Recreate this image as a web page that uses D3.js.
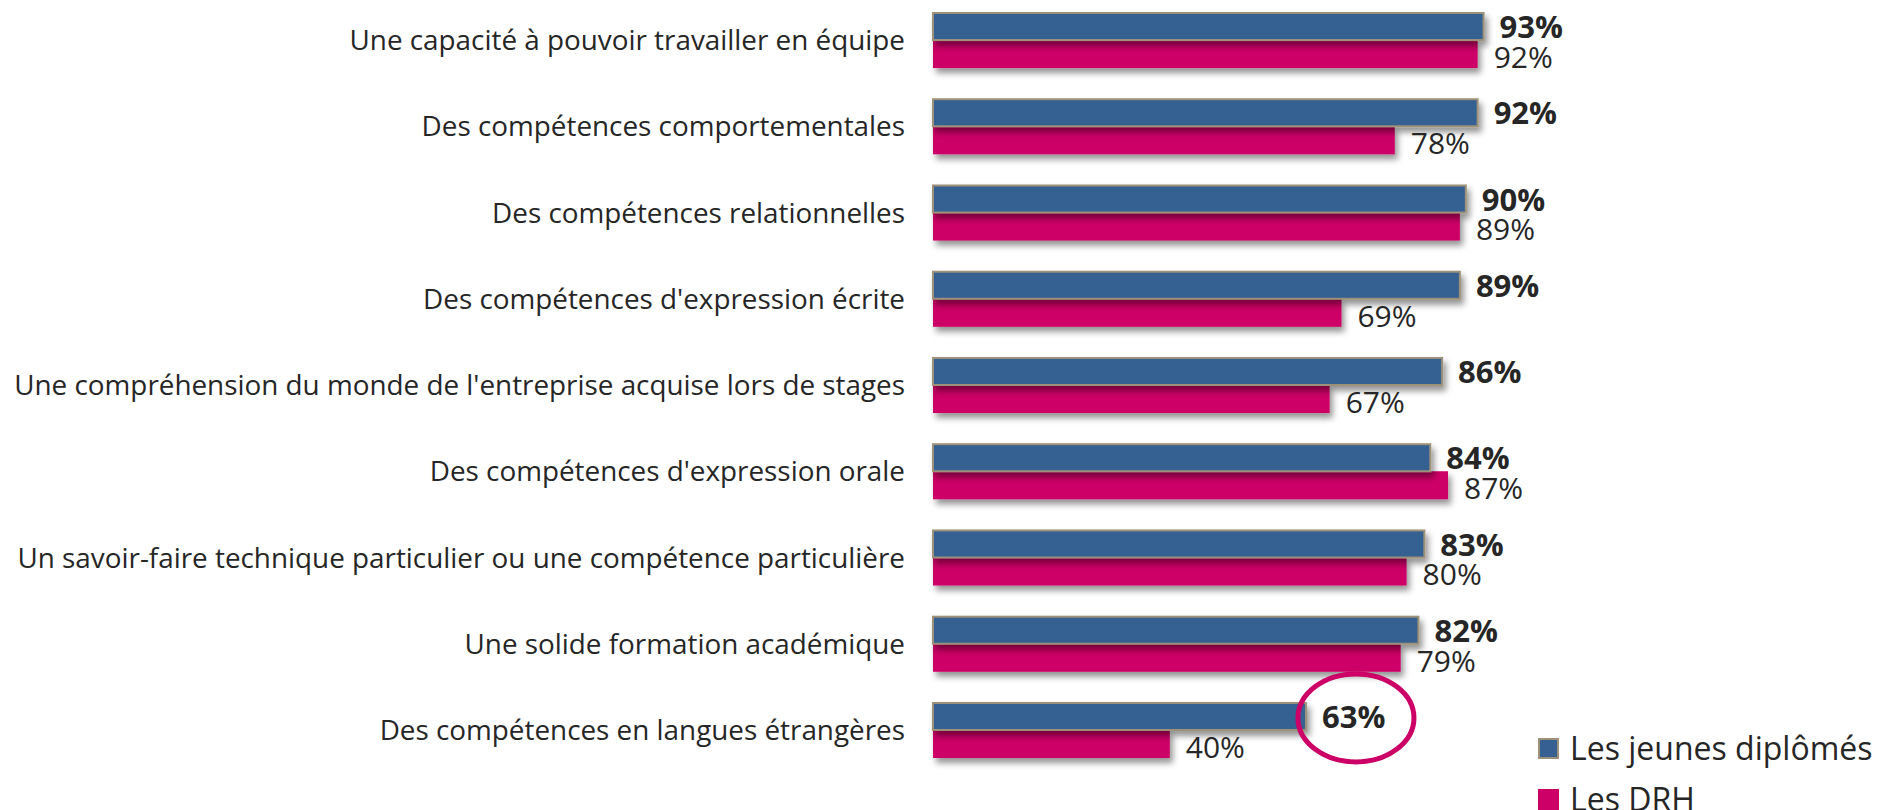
<!DOCTYPE html>
<html>
<head>
<meta charset="utf-8">
<script src="https://cdn.jsdelivr.net/npm/d3@7"></script>
<style>
  html, body { margin: 0; padding: 0; background: #fff; }
  svg { display: block; }
  text { font-family: "Open Sans", "Noto Sans", sans-serif; fill: #262626; }
</style>
</head>
<body>
<svg id="chart" width="1879" height="810"></svg>
<script>
const categories = [
  "Une capacité à pouvoir travailler en équipe",
  "Des compétences comportementales",
  "Des compétences relationnelles",
  "Des compétences d'expression écrite",
  "Une compréhension du monde de l'entreprise acquise lors de stages",
  "Des compétences d'expression orale",
  "Un savoir-faire technique particulier ou une compétence particulière",
  "Une solide formation académique",
  "Des compétences en langues étrangères"
];
const seriesNames = ["Les jeunes diplômés", "Les DRH"];
const jeunesDiplomes = [93, 92, 90, 89, 86, 84, 83, 82, 63];
const drh = [92, 78, 89, 69, 67, 87, 80, 79, 40];
const highlightCategory = "Des compétences en langues étrangères";

const colors = ["#366092", "#CC0066"];
const strokes = ["#9d9279", "none"];

const svg = d3.select("#chart");

const defs = svg.append("defs");
const f = defs.append("filter").attr("id", "shadow")
  .attr("x", "-5%").attr("y", "-30%").attr("width", "115%").attr("height", "190%");
f.append("feDropShadow").attr("dx", 3).attr("dy", 5).attr("stdDeviation", 3)
  .attr("flood-color", "#000").attr("flood-opacity", 0.42);

const x = d3.scaleLinear().domain([0, 100]).range([933, 1525]);
const y = d3.scaleBand().domain(categories).range([12, 758]).paddingInner(0.35).paddingOuter(0);
const ySub = d3.scaleBand().domain(seriesNames).range([0, y.bandwidth()]);

const data = categories.map((c, i) => ({ cat: c, vals: [jeunesDiplomes[i], drh[i]] }));

const groups = svg.append("g").selectAll("g").data(data).join("g")
  .attr("transform", d => `translate(0,${y(d.cat)})`);

// Bars (pink first so blue border sits over)
groups.each(function(d) {
  const g = d3.select(this);
  [1, 0].forEach(si => {
    g.append("rect")
      .attr("x", x(0))
      .attr("y", ySub(seriesNames[si]) + (si === 0 ? 1 : 0))
      .attr("width", x(d.vals[si]) - x(0))
      .attr("height", ySub.bandwidth() - (si === 0 ? 1 : 0))
      .attr("fill", colors[si])
      .attr("stroke", strokes[si])
      .attr("stroke-width", si === 0 ? 2 : 0)
      .attr("filter", "url(#shadow)");
  });
});

// Value labels
groups.each(function(d) {
  const g = d3.select(this);
  [0, 1].forEach(si => {
    g.append("text")
      .attr("x", x(d.vals[si]) + 16)
      .attr("y", ySub(seriesNames[si]) + ySub.bandwidth() / 2 + (si === 0 ? 1 : 3))
      .attr("dy", "0.36em")
      .attr("font-size", si === 0 ? 31 : 30)
      .attr("font-weight", si === 0 ? 700 : 400)
      .attr("fill", "#262626")
      .text(d.vals[si] + "%");
  });
});

// Category labels
const labels = svg.append("g").selectAll("text").data(categories).join("text")
  .attr("x", 905)
  .attr("y", d => y(d) + y.bandwidth() / 2)
  .attr("dy", "0.36em")
  .attr("text-anchor", "end")
  .attr("font-size", 28)
  .text(d => d);
let maxW = 0;
labels.each(function() { maxW = Math.max(maxW, this.getComputedTextLength()); });
const fs = 28 * 891 / maxW;
labels.attr("font-size", fs);

// Highlight ellipse
svg.append("ellipse")
  .attr("cx", x(jeunesDiplomes[categories.indexOf(highlightCategory)]) + 50)
  .attr("cy", y(highlightCategory) + 16)
  .attr("rx", 58).attr("ry", 44)
  .attr("fill", "none")
  .attr("stroke", "#CC0066")
  .attr("stroke-width", 5);

// Legend
const legend = svg.append("g").selectAll("g").data(seriesNames).join("g")
  .attr("transform", (d, i) => `translate(1538,${738 + i * 51})`);
legend.append("rect")
  .attr("x", (d, i) => i === 0 ? 1 : 0).attr("y", (d, i) => i === 0 ? 1 : 0)
  .attr("width", (d, i) => i === 0 ? 19 : 21).attr("height", (d, i) => i === 0 ? 19 : 21)
  .attr("fill", (d, i) => colors[i])
  .attr("stroke", (d, i) => strokes[i])
  .attr("stroke-width", 2);
legend.append("text")
  .attr("x", 32).attr("y", 10.5).attr("dy", "0.36em")
  .attr("font-size", 32)
  .text(d => d);
</script>
</body>
</html>
